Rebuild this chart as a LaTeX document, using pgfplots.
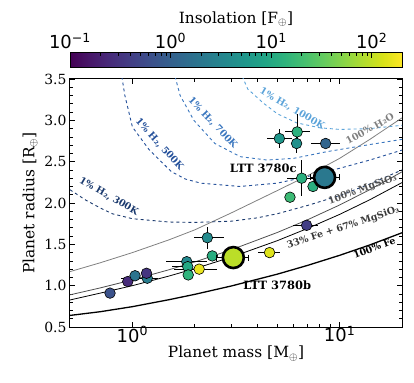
\documentclass[border=0pt]{standalone}
\usepackage{fontspec}
\setmainfont{DejaVu Serif}
\setsansfont{DejaVu Sans}
\usepackage{pgfplots}
\pgfplotsset{compat=1.18}
\definecolor{cA}{HTML}{1B3A6E}
\definecolor{cB}{HTML}{24509A}
\definecolor{cC}{HTML}{3A76BE}
\definecolor{cD}{HTML}{5BA3D9}
\definecolor{gH}{HTML}{808080}
\definecolor{gM}{HTML}{505050}
\begin{document}
\begin{tikzpicture}
\path[use as bounding box] (-70bp,-56bp) rectangle (344bp,327bp);
\begin{axis}[
  at={(0,0)}, anchor=south west,
  scale only axis, width=332bp, height=248bp,
  xmode=log, xmin=0.5, xmax=20, ymin=0.5, ymax=3.5,
  xtick={1,10},
  xticklabels={{\sffamily 10\textsuperscript{0}},{\sffamily 10\textsuperscript{1}}},
  ytick={0.5,1,1.5,2,2.5,3,3.5},
  minor y tick num=4,
  yticklabel style={/pgf/number format/fixed,/pgf/number format/fixed zerofill,/pgf/number format/precision=1,/pgf/number format/assume math mode=true,font=\fontsize{14}{14}\selectfont},
  xticklabel style={font=\fontsize{18}{18}\selectfont, yshift=4bp},
  tick align=inside, major tick length=5bp, minor tick length=3bp,
  tick style={black, line width=0.6bp},
  axis line style={line width=1bp},
  xlabel={Planet mass [M$_\oplus$]}, ylabel={Planet radius [R$_\oplus$]},
  label style={font=\fontsize{15.5}{16}\selectfont},
  xlabel style={yshift=3bp},
  colormap/viridis, point meta min=-1, point meta max=2.301,
  colorbar horizontal,
  colorbar style={
    at={(0,1.0456)}, anchor=south west,
    scale only axis, width=332bp, height=15bp,
    xticklabel pos=upper, xtick pos=upper,
    xtick={-1,0,1,2},
    xticklabels={{\sffamily 10\textsuperscript{−1}},{\sffamily 10\textsuperscript{0}},{\sffamily 10\textsuperscript{1}},{\sffamily 10\textsuperscript{2}}},
    minor xtick={-0.699,-0.523,-0.398,-0.301,-0.222,-0.155,-0.097,-0.046,0.301,0.477,0.602,0.699,0.778,0.845,0.903,0.954,1.301,1.477,1.602,1.699,1.778,1.845,1.903,1.954},
    tick align=inside, major tick length=5bp, minor tick length=3bp,
    xticklabel style={font=\fontsize{18}{18}\selectfont},
    xlabel={Insolation [F$_\oplus$]},
    xlabel style={font=\fontsize{15.5}{16}\selectfont},
    axis line style={line width=1bp},
    ytick=\empty,
  },
  clip mode=individual,
]
% composition curves
\addplot[black, line width=1.3bp] coordinates {(0.5,0.64) (0.7,0.685) (1,0.746) (1.5,0.83) (2,0.895) (3,0.996) (5,1.139) (7,1.245) (10,1.367) (14,1.493) (20,1.64)};
\addplot[black, line width=0.8bp] coordinates {(0.5,0.827) (0.7,0.91) (1,1.0) (1.5,1.116) (2,1.206) (3,1.345) (5,1.544) (7,1.692) (10,1.862) (14,2.04) (20,2.247)};
\addplot[gM, line width=0.8bp] coordinates {(0.5,0.889) (0.7,0.973) (1,1.07) (1.5,1.192) (2,1.287) (3,1.434) (5,1.643) (7,1.797) (10,1.976) (14,2.162) (20,2.377)};
\addplot[gH, line width=0.8bp] coordinates {(0.5,1.17) (0.7,1.277) (1,1.40) (1.5,1.554) (2,1.675) (3,1.88) (5,2.15) (7,2.33) (10,2.54) (14,2.77) (20,3.03)};
% 1% H2 curves
\addplot[cA, dashed, line width=0.9bp] coordinates {(0.5,2.16) (0.6,2.03) (0.7,1.94) (0.8,1.87) (1,1.81) (1.5,1.77) (2,1.765) (3,1.78) (4,1.82) (5,1.87) (7,1.97) (10,2.09) (14,2.23) (20,2.40)};
\addplot[cB, dashed, line width=0.9bp] coordinates {(0.88,3.6) (0.92,3.3) (1.0,2.92) (1.2,2.65) (1.54,2.38) (1.8,2.29) (2.14,2.24) (3.3,2.20) (5,2.24) (7,2.32) (10,2.42) (14,2.52) (20,2.64)};
\addplot[cC, dashed, line width=0.9bp] coordinates {(1.58,3.6) (1.7,3.3) (1.98,3.0) (2.5,2.72) (3.32,2.56) (4.46,2.52) (6,2.54) (8.64,2.62) (12,2.68) (20,2.77)};
\addplot[cD, dashed, line width=0.9bp] coordinates {(3.3,3.6) (3.6,3.38) (4.28,3.21) (5,3.08) (6.2,2.97) (8,2.91) (10,2.89) (14,2.9) (20,2.94)};
% curve labels
\node[rotate=-30, text=cA, font=\bfseries\fontsize{9.5}{10}\selectfont] at (axis cs:0.77,2.08) {1\% H₂, 300K};
\node[rotate=-48, text=cB, font=\bfseries\fontsize{9.5}{10}\selectfont] at (axis cs:1.35,2.71) {1\% H₂, 500K};
\node[rotate=-47, text=cC, font=\bfseries\fontsize{9.5}{10}\selectfont] at (axis cs:2.44,2.97) {1\% H₂, 700K};
\node[rotate=-30, text=cD, font=\bfseries\fontsize{9.5}{10}\selectfont] at (axis cs:5.9,3.14) {1\% H₂, 1000K};
\node[rotate=29, text=gH, font=\bfseries\fontsize{9.5}{10}\selectfont] at (axis cs:14.0,2.90) {100\% H₂O};
\node[rotate=20, text=gM, font=\bfseries\fontsize{9.5}{10}\selectfont] at (axis cs:12.9,2.16) {100\% MgSiO₃};
\node[rotate=18, text=gM!70!black, font=\bfseries\fontsize{9.5}{10}\selectfont] at (axis cs:10.4,1.70) {33\% Fe + 67\% MgSiO₃};
\node[rotate=21, text=black, font=\bfseries\fontsize{9.5}{10}\selectfont] at (axis cs:14.7,1.46) {100\% Fe};
\node[font=\bfseries\fontsize{11.5}{12}\selectfont] at (axis cs:4.28,2.42) {LTT 3780c};
\node[font=\bfseries\fontsize{11.5}{12}\selectfont] at (axis cs:5.0,1.01) {LTT 3780b};
% error bars of comparison planets
\addplot[draw=none, mark=none, forget plot,
  error bars/.cd, x dir=both, x explicit, y dir=both, y explicit, error mark=none,
  error bar style={black, line width=1bp}]
  table[x=x, y=y, x error plus=xp, x error minus=xm, y error plus=yp, y error minus=ym] {
x     y     xm    xp    ym    yp
1.18  1.09  0.294 0.15  0.03  0.03
2.30  1.58  0.31  0.46  0.14  0.13
1.83  1.29  0.38  0.47  0.05  0.05
1.85  1.23  0.29  0.10  0.03  0.03
2.10  1.20  0.51  0.47  0.03  0.03
4.59  1.40  0.54  0.57  0.03  0.03
6.93  1.73  0.98  0.92  0.03  0.03
5.12  2.78  0.65  0.77  0.11  0.11
6.24  2.86  0.78  0.94  0.14  0.22
6.20  2.72  0.40  0.40  0.12  0.08
8.56  2.72  1.26  1.44  0.04  0.04
6.56  2.30  1.01  0.91  0.22  0.22
};
% comparison planets
\addplot[scatter, only marks, scatter src=explicit, mark=*, mark size=5.3bp,
  scatter/use mapped color={draw=black, fill=mapped color},
  mark options={line width=0.6bp}]
  table[x=x, y=y, meta=f] {
x     y     f
0.78  0.91  -0.17
0.95  1.05  -0.60
1.03  1.12  0.25
1.18  1.09  0.39
1.17  1.15  -0.50
2.30  1.58  0.58
2.43  1.36  1.05
1.83  1.29  0.55
1.85  1.23  0.98
1.86  1.13  1.15
2.10  1.20  2.20
4.59  1.40  2.14
6.93  1.73  -0.40
5.12  2.78  0.75
6.20  2.72  0.65
6.24  2.86  1.11
8.56  2.72  0.06
6.56  2.30  1.08
7.44  2.20  1.08
5.76  2.07  1.25
};
% LTT 3780 planets
\addplot[draw=none, mark=none, forget plot,
  error bars/.cd, x dir=both, x explicit, y dir=both, y explicit, error mark=|,
  error mark options={black, mark size=3bp, line width=1bp},
  error bar style={black, line width=1bp}]
  table[x=x, y=y, x error plus=xp, x error minus=xm, y error plus=yp, y error minus=ym] {
x     y     xm    xp    ym    yp
3.07  1.34  0.52  0.57  0.07  0.07
8.46  2.31  1.26  1.54  0.07  0.07
};
\addplot[scatter, only marks, scatter src=explicit, mark=*, mark size=10.5bp,
  scatter/use mapped color={draw=black, fill=mapped color},
  mark options={line width=2.6bp}]
  table[x=x, y=y, meta=f] {
x     y     f
3.07  1.34  1.97
8.46  2.31  0.32
};
\end{axis}
\end{tikzpicture}
\end{document}
